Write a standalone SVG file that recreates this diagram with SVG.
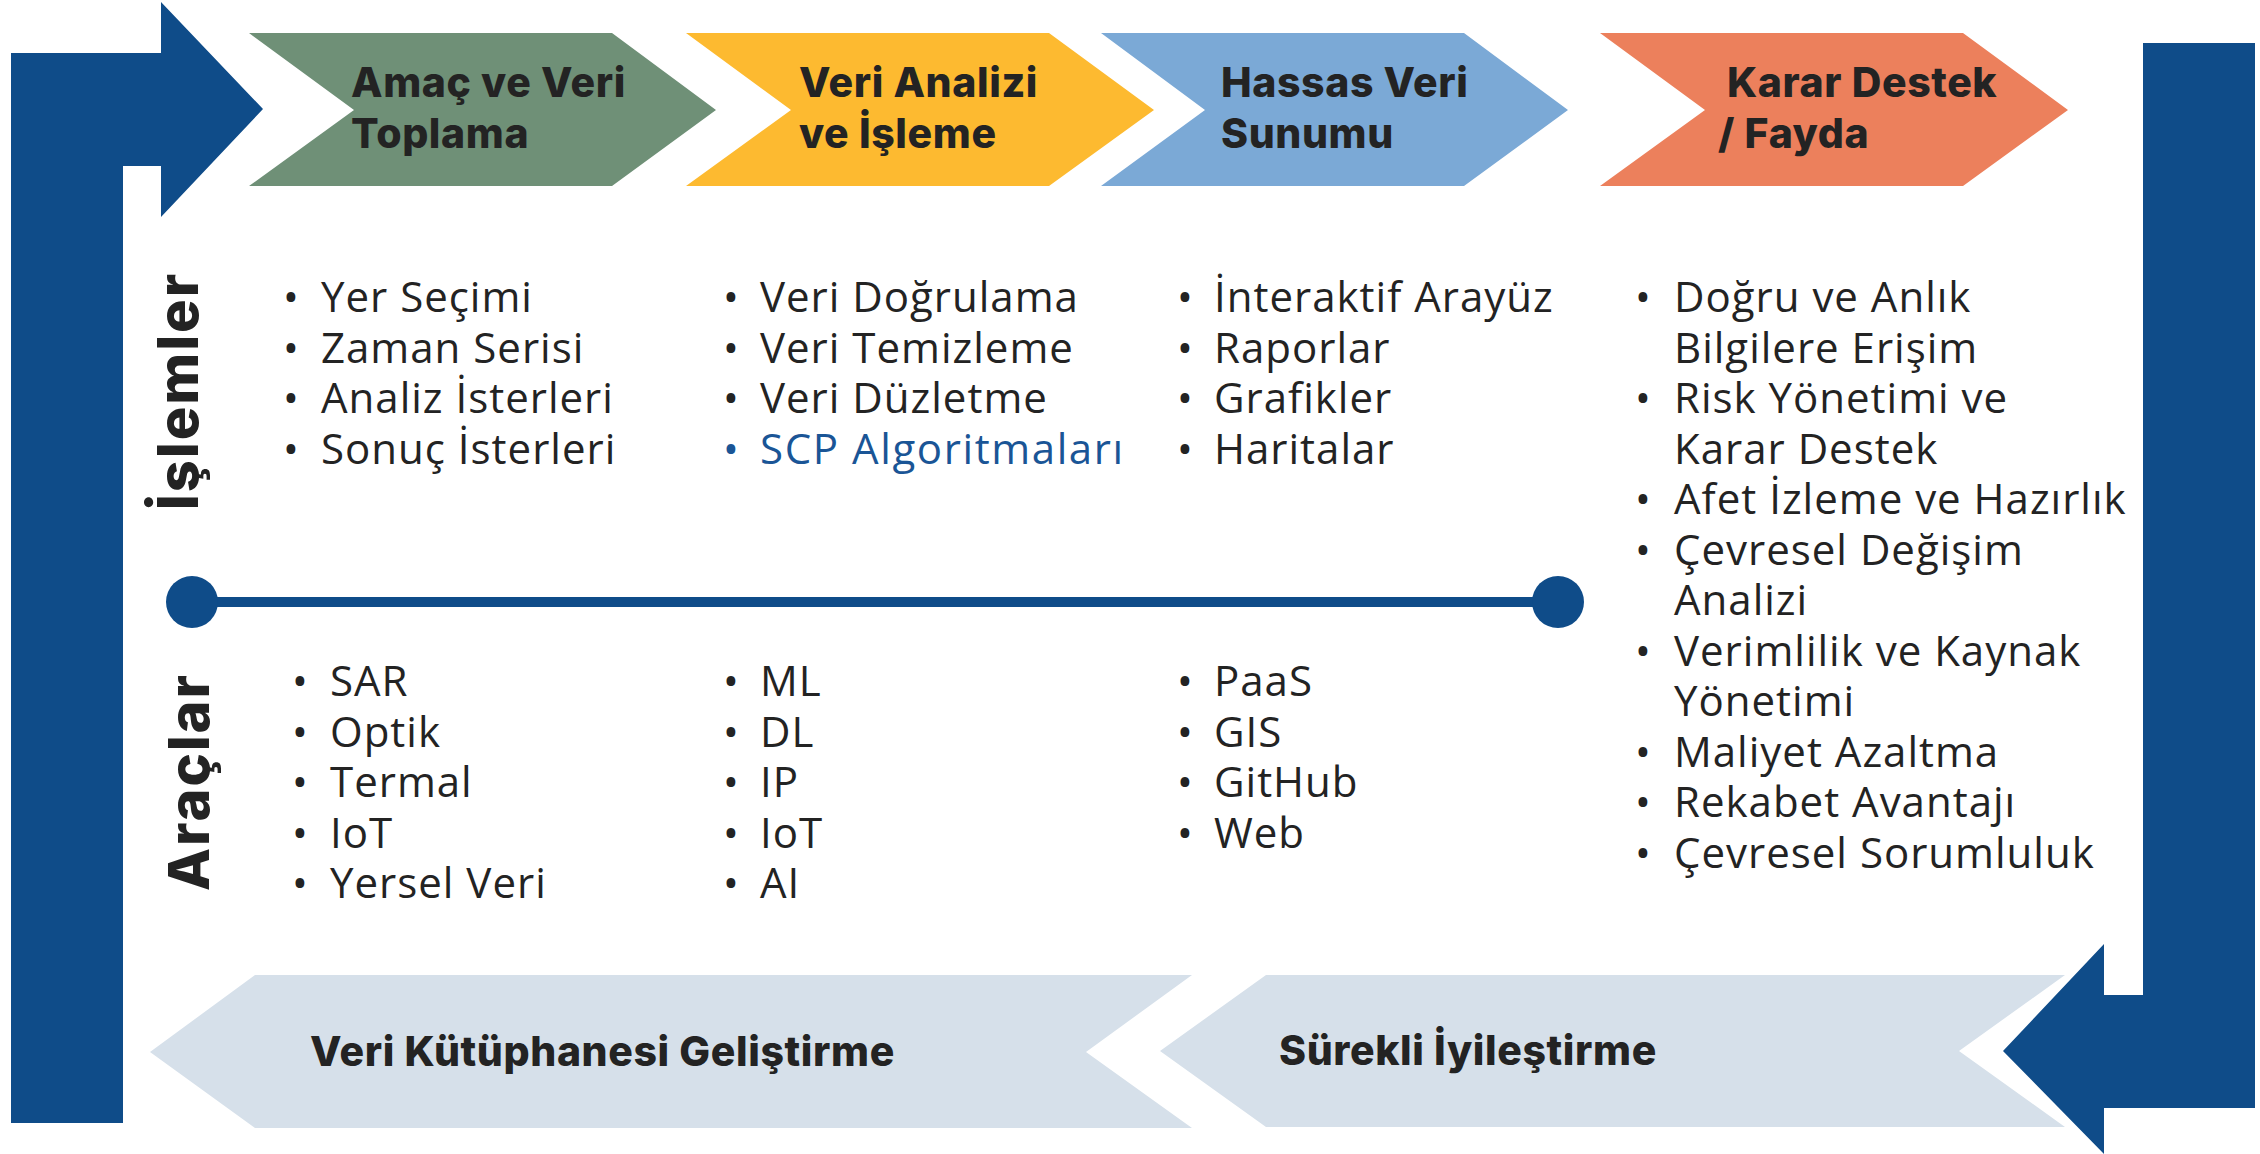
<svg xmlns="http://www.w3.org/2000/svg" width="2260" height="1154" viewBox="0 0 2260 1154">
<style>
.hd{font-family:Inter,"Open Sans","DejaVu Sans",sans-serif;font-weight:800;font-size:41px;letter-spacing:0.6px;fill:#232323}
.tx{font-family:"Open Sans","Noto Sans",sans-serif;font-size:42px;letter-spacing:1px;fill:#232323}
.blue{fill:#1A5596}
.side{font-family:Inter,"Open Sans",sans-serif;font-weight:800;font-size:56px;letter-spacing:2px;fill:#232323;text-anchor:middle}
.loop{fill:#0F4C89}
</style>
<rect width="2260" height="1154" fill="#FFFFFF"/>
<g id="connectors">
  <polygon class="loop" points="11,1123 11,53 161,53 161,2 263,109 161,217 161,166 123,166 123,1123"/>
  <polygon class="loop" points="2143,43 2255,43 2255,1108 2104,1108 2104,1154 2003,1051 2104,944 2104,995 2143,995"/>
  <g id="divider">
    <line x1="192" y1="602" x2="1558" y2="602" stroke="#0F4C89" stroke-width="10"/>
    <circle cx="192" cy="602" r="26" fill="#0F4C89"/>
    <circle cx="1558" cy="602" r="26" fill="#0F4C89"/>
  </g>
</g>
<g id="step1">
  <polygon points="249,33 612,33 716,110 612,186 249,186 354,110" fill="#6F9077"/>
  <text class="hd"><tspan x="351" y="97">Amaç ve Veri</tspan><tspan x="351" y="148">Toplama</tspan></text>
</g>
<g id="step2">
  <polygon points="686,33 1049,33 1154,110 1049,186 686,186 791,110" fill="#FDBA30"/>
  <text class="hd"><tspan x="799" y="97">Veri Analizi</tspan><tspan x="799" y="148">ve İşleme</tspan></text>
</g>
<g id="step3">
  <polygon points="1101,33 1464,33 1568,110 1464,186 1101,186 1205,110" fill="#7BA9D6"/>
  <text class="hd"><tspan x="1221" y="97">Hassas Veri</tspan><tspan x="1221" y="148">Sunumu</tspan></text>
</g>
<g id="step4">
  <polygon points="1600,33 1963,33 2068,110 1963,186 1600,186 1705,110" fill="#EC805C"/>
  <text class="hd"><tspan x="1727" y="97">Karar Destek</tspan><tspan x="1718" y="148">/ Fayda</tspan></text>
</g>
<g id="label-islemler">
  <text class="side" transform="translate(198,391) rotate(-90)">İşlemler</text>
</g>
<g id="label-araclar">
  <text class="side" transform="translate(209,782) rotate(-90)">Araçlar</text>
</g>
<g id="islemler-col1">
  <text class="tx">
    <tspan x="283" y="312">•</tspan><tspan x="321" y="312">Yer Seçimi</tspan>
    <tspan x="283" y="362.5">•</tspan><tspan x="321" y="362.5">Zaman Serisi</tspan>
    <tspan x="283" y="413">•</tspan><tspan x="321" y="413">Analiz İsterleri</tspan>
    <tspan x="283" y="463.5">•</tspan><tspan x="321" y="463.5">Sonuç İsterleri</tspan>
  </text>
</g>
<g id="islemler-col2">
  <text class="tx">
    <tspan x="723" y="312">•</tspan><tspan x="760" y="312">Veri Doğrulama</tspan>
    <tspan x="723" y="362.5">•</tspan><tspan x="760" y="362.5">Veri Temizleme</tspan>
    <tspan x="723" y="413">•</tspan><tspan x="760" y="413">Veri Düzletme</tspan>
    <tspan class="blue" x="723" y="463.5">•</tspan><tspan class="blue" x="760" y="463.5" letter-spacing="1.6">SCP Algoritmaları</tspan>
  </text>
</g>
<g id="islemler-col3">
  <text class="tx">
    <tspan x="1177" y="312">•</tspan><tspan x="1214" y="312">İnteraktif Arayüz</tspan>
    <tspan x="1177" y="362.5">•</tspan><tspan x="1214" y="362.5">Raporlar</tspan>
    <tspan x="1177" y="413">•</tspan><tspan x="1214" y="413">Grafikler</tspan>
    <tspan x="1177" y="463.5">•</tspan><tspan x="1214" y="463.5">Haritalar</tspan>
  </text>
</g>
<g id="fayda-list">
  <text class="tx">
    <tspan x="1635" y="312">•</tspan><tspan x="1674" y="312">Doğru ve Anlık</tspan>
    <tspan x="1674" y="362.5">Bilgilere Erişim</tspan>
    <tspan x="1635" y="413">•</tspan><tspan x="1674" y="413">Risk Yönetimi ve</tspan>
    <tspan x="1674" y="463.5">Karar Destek</tspan>
    <tspan x="1635" y="514">•</tspan><tspan x="1674" y="514">Afet İzleme ve Hazırlık</tspan>
    <tspan x="1635" y="564.5">•</tspan><tspan x="1674" y="564.5">Çevresel Değişim</tspan>
    <tspan x="1674" y="615">Analizi</tspan>
    <tspan x="1635" y="665.5">•</tspan><tspan x="1674" y="665.5">Verimlilik ve Kaynak</tspan>
    <tspan x="1674" y="716">Yönetimi</tspan>
    <tspan x="1635" y="766.5">•</tspan><tspan x="1674" y="766.5">Maliyet Azaltma</tspan>
    <tspan x="1635" y="817">•</tspan><tspan x="1674" y="817">Rekabet Avantajı</tspan>
    <tspan x="1635" y="867.5">•</tspan><tspan x="1674" y="867.5">Çevresel Sorumluluk</tspan>
  </text>
</g>
<g id="araclar-col1">
  <text class="tx">
    <tspan x="292" y="696">•</tspan><tspan x="330" y="696">SAR</tspan>
    <tspan x="292" y="746.5">•</tspan><tspan x="330" y="746.5">Optik</tspan>
    <tspan x="292" y="797">•</tspan><tspan x="330" y="797">Termal</tspan>
    <tspan x="292" y="847.5">•</tspan><tspan x="330" y="847.5">IoT</tspan>
    <tspan x="292" y="898">•</tspan><tspan x="330" y="898">Yersel Veri</tspan>
  </text>
</g>
<g id="araclar-col2">
  <text class="tx">
    <tspan x="723" y="696">•</tspan><tspan x="760" y="696">ML</tspan>
    <tspan x="723" y="746.5">•</tspan><tspan x="760" y="746.5">DL</tspan>
    <tspan x="723" y="797">•</tspan><tspan x="760" y="797">IP</tspan>
    <tspan x="723" y="847.5">•</tspan><tspan x="760" y="847.5">IoT</tspan>
    <tspan x="723" y="898">•</tspan><tspan x="760" y="898">AI</tspan>
  </text>
</g>
<g id="araclar-col3">
  <text class="tx">
    <tspan x="1177" y="696">•</tspan><tspan x="1214" y="696">PaaS</tspan>
    <tspan x="1177" y="746.5">•</tspan><tspan x="1214" y="746.5">GIS</tspan>
    <tspan x="1177" y="797">•</tspan><tspan x="1214" y="797">GitHub</tspan>
    <tspan x="1177" y="847.5">•</tspan><tspan x="1214" y="847.5">Web</tspan>
  </text>
</g>
<g id="bottom-left">
  <polygon points="255,975 1192,975 1086,1052 1192,1128 255,1128 150,1052" fill="#D6E0EA"/>
  <text class="hd" x="310" y="1066">Veri Kütüphanesi Geliştirme</text>
</g>
<g id="bottom-right">
  <polygon points="1266,975 2065,975 1959,1051 2065,1127 1266,1127 1160,1051" fill="#D6E0EA"/>
  <text class="hd" x="1279" y="1065">Sürekli İyileştirme</text>
</g>
</svg>
